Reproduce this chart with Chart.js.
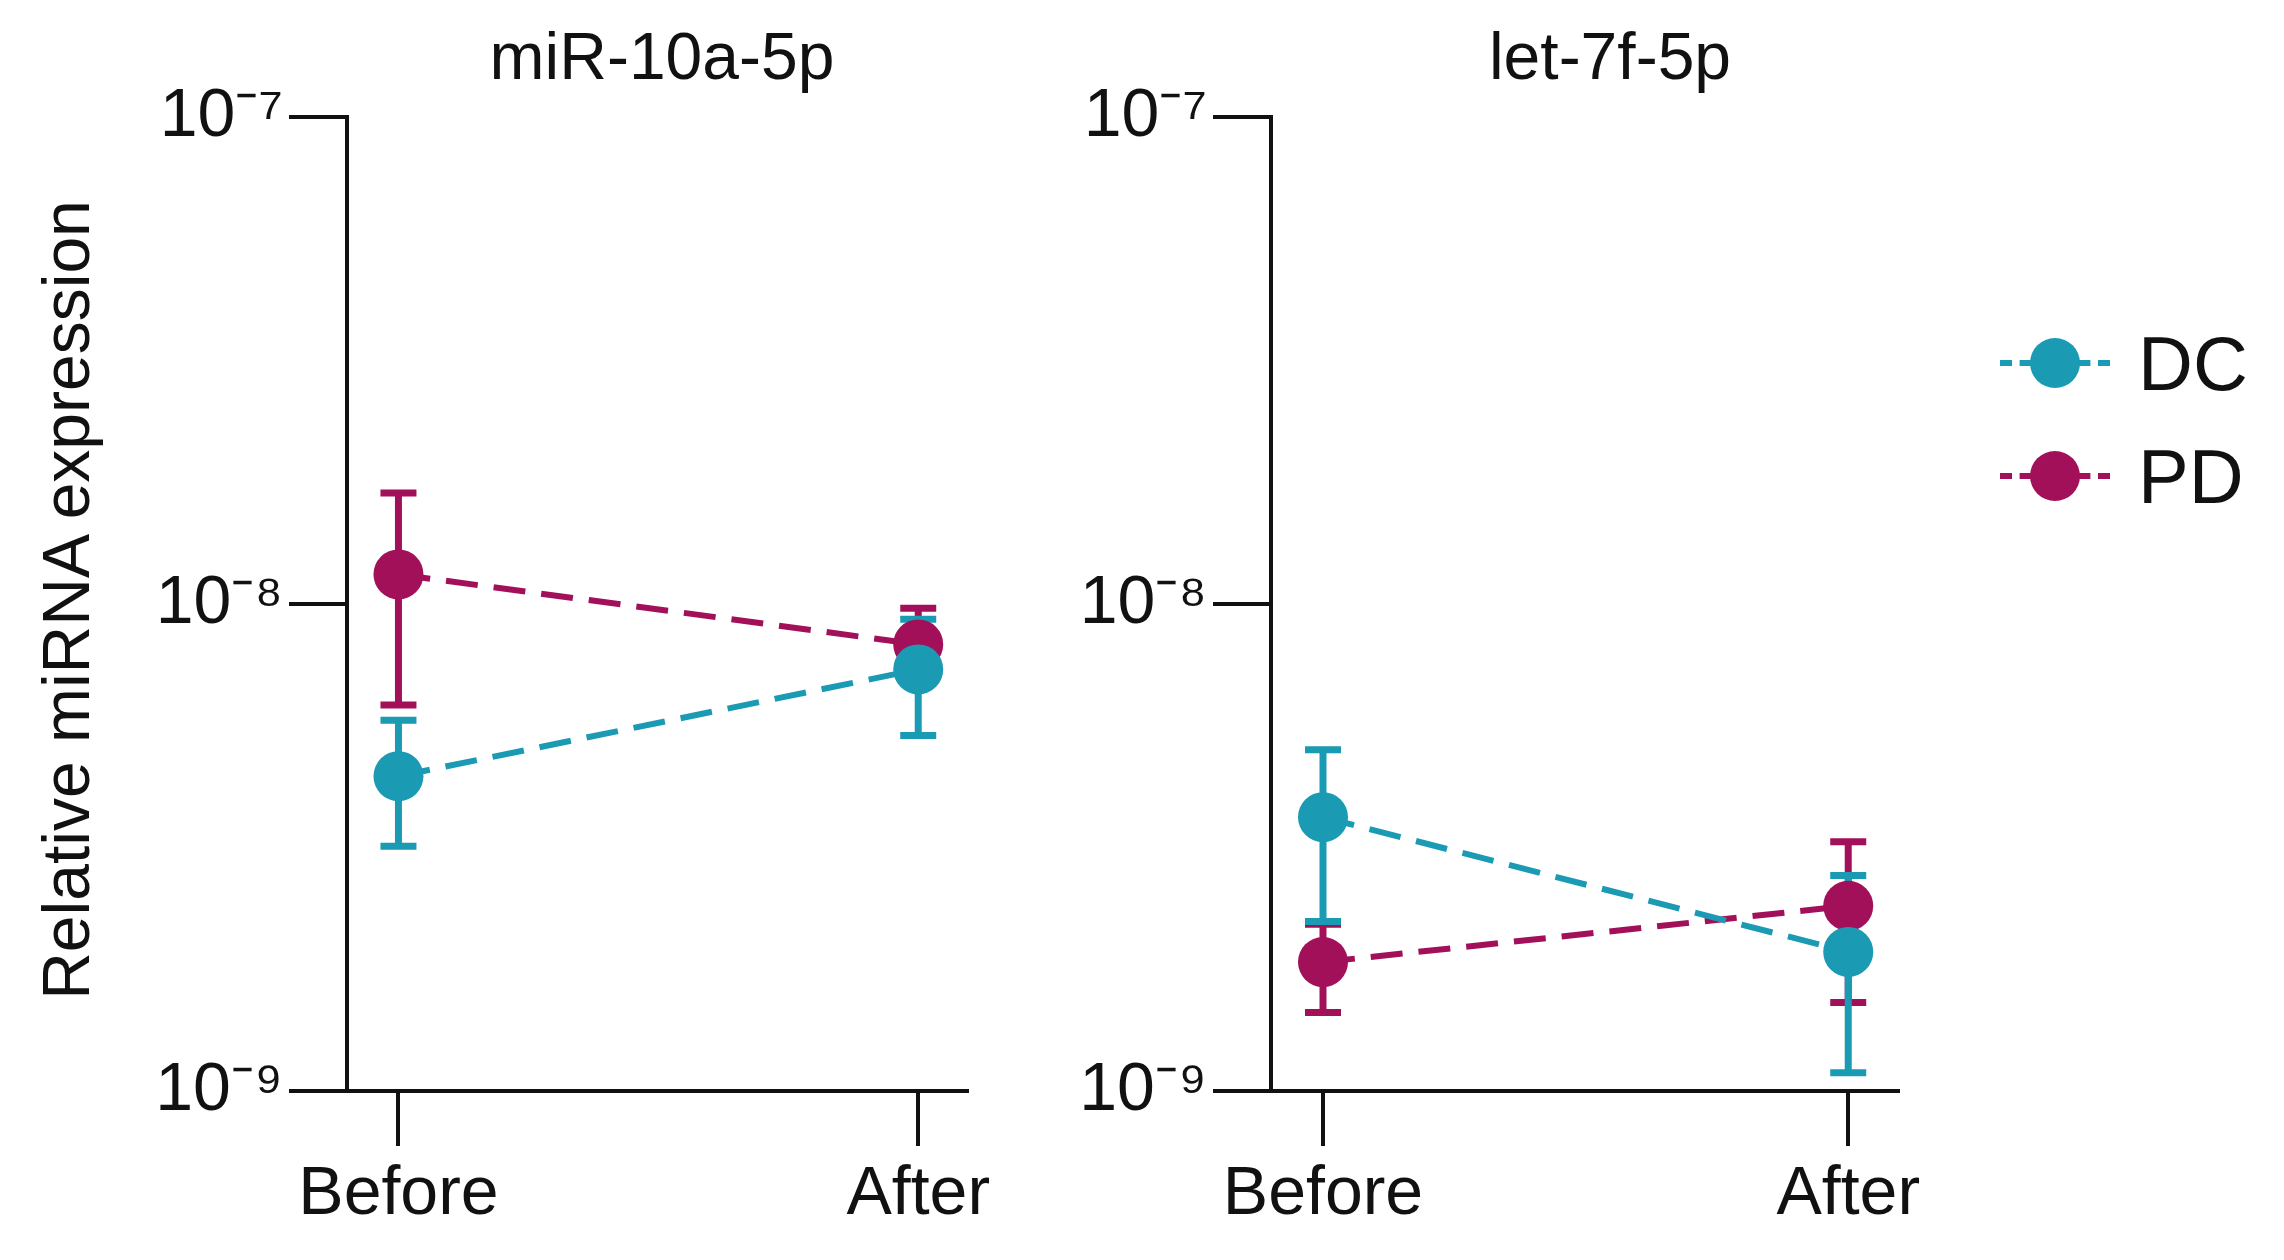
<!DOCTYPE html>
<html><head><meta charset="utf-8">
<script src="https://cdn.jsdelivr.net/npm/chart.js@4.4.1/dist/chart.umd.min.js"></script>
<style>
body{margin:0;width:2284px;height:1260px;background:#fff;position:relative;overflow:hidden;font-family:Arial,"Liberation Sans",sans-serif;}
canvas{position:absolute;}
.t{position:absolute;font-size:66px;color:#111;transform:translateX(-50%);white-space:nowrap;}
.yl{position:absolute;left:66px;top:600px;font-size:66px;transform:translate(-50%,-50%) rotate(-90deg);white-space:nowrap;color:#111;}
.lg{position:absolute;left:2000px;height:80px;display:flex;align-items:center;font-size:76px;color:#111;}
.lg .ln{width:110px;height:80px;position:relative;margin-right:28px;}
.lg .ln i{position:absolute;left:0;right:0;top:37px;border-top:6px dashed;}
.lg .ln b{position:absolute;left:30px;top:15px;width:50px;height:50px;border-radius:50%;}
</style></head><body>
<div class="t" style="left:662px;top:18px">miR-10a-5p</div>
<div class="t" style="left:1610px;top:18px">let-7f-5p</div>
<div class="yl">Relative miRNA expression</div>
<div class="lg" style="top:323px"><div class="ln"><i style="border-color:#1a9bb3"></i><b style="background:#1a9bb3"></b></div>DC</div>
<div class="lg" style="top:436px"><div class="ln"><i style="border-color:#a3105a"></i><b style="background:#a3105a"></b></div>PD</div>
<canvas id="c1" style="left:0;top:0" width="1000" height="1260"></canvas>
<canvas id="c2" style="left:930px;top:0" width="1000" height="1260"></canvas>
<script>
const categories = ["Before", "After"];
const yTickLabels = {"1e-7":"10⁻⁷","1e-8":"10⁻⁸","1e-9":"10⁻⁹"};
// panel 1: miR-10a-5p
const mir_DC = [4.43e-9, 7.34e-9], mir_DC_hi = [5.77e-9, 9.3e-9], mir_DC_lo = [3.18e-9, 5.37e-9];
const mir_PD = [1.15e-8, 8.26e-9], mir_PD_hi = [1.69e-8, 9.8e-9], mir_PD_lo = [6.2e-9, 7.0e-9];
// panel 2: let-7f-5p
const let_DC = [3.65e-9, 1.93e-9], let_DC_hi = [5.02e-9, 2.77e-9], let_DC_lo = [2.23e-9, 1.09e-9];
const let_PD = [1.84e-9, 2.4e-9], let_PD_hi = [2.2e-9, 3.25e-9], let_PD_lo = [1.45e-9, 1.52e-9];
const TEAL = "#1a9bb3", MAG = "#a3105a";

const errPlugin = {id:"err", beforeDatasetsDraw(chart){
  const ctx = chart.ctx, xs = chart.scales.x, ys = chart.scales.y;
  chart.data.datasets.slice().reverse().forEach(ds=>{
    ds.hi.forEach((h,i)=>{
      const x = xs.getPixelForValue(i), y1 = ys.getPixelForValue(h), y2 = ys.getPixelForValue(ds.lo[i]);
      ctx.save(); ctx.strokeStyle = ds.borderColor; ctx.lineWidth = 7; ctx.setLineDash([]);
      ctx.beginPath(); ctx.moveTo(x,y1); ctx.lineTo(x,y2);
      ctx.moveTo(x-18,y1); ctx.lineTo(x+18,y1); ctx.moveTo(x-18,y2); ctx.lineTo(x+18,y2); ctx.stroke(); ctx.restore();
    });
  });
}};

function mk(id, dc, dch, dcl, pd, pdh, pdl, yw){
  const ds = (d,h,l,c)=>({data:d.map((v,i)=>({x:i,y:v})), hi:h, lo:l, borderColor:c, backgroundColor:c,
     borderWidth:6, borderDash:[32,16], pointRadius:25, pointBorderWidth:0, pointBackgroundColor:c});
  new Chart(document.getElementById(id), {
    type:"line",
    data:{datasets:[ds(dc,dch,dcl,TEAL), ds(pd,pdh,pdl,MAG)]},
    plugins:[errPlugin],
    options:{responsive:false, animation:false, clip:false,
      layout:{padding:{top:117,right:19,left:0,bottom:0}},
      plugins:{legend:{display:false}, tooltip:{enabled:false}},
      scales:{
        x:{type:"linear", min:-0.099, max:1.094,
          afterBuildTicks:s=>{s.ticks=[{value:0},{value:1}];},
          afterFit:s=>{s.height=169;},
          ticks:{callback:v=>categories[v], color:"#111", font:{size:68, family:"Arial"}, padding:8},
          grid:{drawOnChartArea:false, drawTicks:true, tickLength:55, color:"#111", lineWidth:4},
          border:{color:"#111", width:4}},
        y:{type:"logarithmic", min:1e-9, max:1e-7,
          afterBuildTicks:s=>{s.ticks=[{value:1e-9},{value:1e-8},{value:1e-7}];},
          afterFit:s=>{s.width=yw;},
          ticks:{callback:v=>yTickLabels[String(v)]||"", color:"#111", font:{size:68, family:"Arial"}, padding:6},
          grid:{drawOnChartArea:false, drawTicks:true, tickLength:58, color:"#111", lineWidth:4},
          border:{color:"#111", width:4}}
      }}
  });
}
mk("c1", mir_DC, mir_DC_hi, mir_DC_lo, mir_PD, mir_PD_hi, mir_PD_lo, 347);
mk("c2", let_DC, let_DC_hi, let_DC_lo, let_PD, let_PD_hi, let_PD_lo, 341);
</script></body></html>
